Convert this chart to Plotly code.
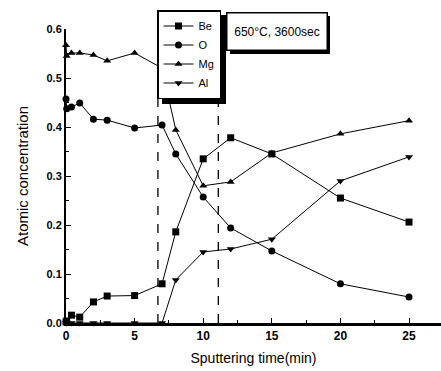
import plotly.graph_objects as go

# Sputtering time (min) and atomic concentration of each element
time_min = [0, 0.05, 0.4, 1, 2, 3, 5, 7, 8, 10, 12, 15, 20, 25]
be = [0.002, 0.004, 0.016, 0.012, 0.043, 0.055, 0.056, 0.080, 0.186, 0.335, 0.378, 0.345, 0.255, 0.206]
o = [0.457, 0.437, 0.441, 0.449, 0.416, 0.414, 0.398, 0.404, 0.345, 0.257, 0.194, 0.147, 0.080, 0.053]
mg = [0.567, 0.545, 0.551, 0.551, 0.547, 0.535, 0.551, 0.520, 0.394, 0.280, 0.288, 0.347, 0.386, 0.413]
al = [0, 0, 0, 0, 0, 0, 0, 0, 0.088, 0.145, 0.151, 0.171, 0.290, 0.339]

series_names = ["Be", "O", "Mg", "Al"]
series_values = [be, o, mg, al]
symbols = ["square", "circle", "triangle-up", "triangle-down"]

# interface boundaries (min)
boundaries = [6.7, 11.1]

W, H = 441, 371
ML, MR, MT, MB = 66, 0, 29, 48
x_range = [0, 27.33]
y_range = [0, 0.6]

fig = go.Figure()
for name, vals, sym in zip(series_names, series_values, symbols):
    fig.add_trace(go.Scatter(
        x=time_min, y=vals, name=name, mode="lines+markers",
        line=dict(color="black", width=1),
        marker=dict(symbol=sym, size=7, color="black"),
        cliponaxis=False,
    ))

for b in boundaries:
    fig.add_shape(type="line", x0=b, x1=b, y0=0, y1=0.6, xref="x", yref="y",
                  line=dict(color="black", width=1.3, dash="dash"), layer="below")

pw = W - ML - MR
ph = H - MT - MB


def px_to_paper(px, py):
    return (px - ML) / pw, (H - MB - py) / ph


# legend box shadow
lx0, ly0 = px_to_paper(162, 104)
lx1, ly1 = px_to_paper(226, 15)
fig.add_shape(type="rect", xref="paper", yref="paper", x0=lx0, x1=lx1, y0=ly0, y1=ly1,
              fillcolor="black", line=dict(width=0), layer="above")

# condition label shadow
cx0, cy0 = px_to_paper(230, 54)
cx1, cy1 = px_to_paper(330, 16)
fig.add_shape(type="rect", xref="paper", yref="paper", x0=cx0, x1=cx1, y0=cy0, y1=cy1,
              fillcolor="black", line=dict(width=0), layer="above")

ax, ay = px_to_paper(226, 12)
fig.add_annotation(text="650°C, 3600sec", xref="paper", yref="paper", x=ax, y=ay,
                   xanchor="left", yanchor="top", showarrow=False, align="center",
                   font=dict(family="Liberation Sans, Arial", size=12, color="black"),
                   bgcolor="white", bordercolor="black", borderwidth=1.5, borderpad=3,
                   width=93, height=30)

gx, gy = px_to_paper(157, 10)
fig.update_layout(
    width=W, height=H,
    margin=dict(l=ML, r=MR, t=MT, b=MB),
    paper_bgcolor="white", plot_bgcolor="white",
    font=dict(family="Liberation Sans, Arial", color="black", size=12),
    showlegend=True,
    legend=dict(x=gx, y=gy, xanchor="left", yanchor="top",
                bgcolor="white", bordercolor="black", borderwidth=1.5,
                font=dict(size=11), itemwidth=30, tracegroupgap=0),
    xaxis=dict(range=x_range, showgrid=False, zeroline=False,
               showline=True, linecolor="black", linewidth=2.5,
               ticks="inside", ticklen=5, tickwidth=1.2, tickcolor="black",
               tickvals=[0, 5, 10, 15, 20, 25],
               minor=dict(tickvals=[2.5, 7.5, 12.5, 17.5, 22.5], ticks="inside", ticklen=3, tickcolor="black"),
               tickfont=dict(size=12, family="Liberation Sans, Arial", weight="bold"),
               title=dict(text="Sputtering time(min)", font=dict(size=14), standoff=12)),
    yaxis=dict(range=y_range, showgrid=False, zeroline=False,
               showline=True, linecolor="black", linewidth=2,
               ticks="inside", ticklen=5, tickwidth=1.2, tickcolor="black",
               tickvals=[0, 0.1, 0.2, 0.3, 0.4, 0.5, 0.6],
               ticktext=["0.0", "0.1", "0.2", "0.3", "0.4", "0.5", "0.6"],
               minor=dict(tickvals=[0.05, 0.15, 0.25, 0.35, 0.45, 0.55], ticks="inside", ticklen=3, tickcolor="black"),
               tickfont=dict(size=11, family="Liberation Sans, Arial", weight="bold"),
               title=dict(text="Atomic concentration", font=dict(size=15), standoff=14)),
)

fig.write_html("out.html")
